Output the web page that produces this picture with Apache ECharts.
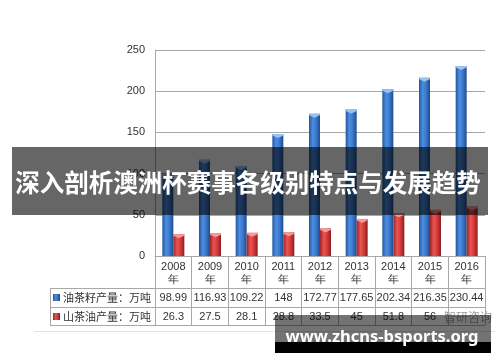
<!DOCTYPE html>
<html><head><meta charset="utf-8">
<script src="https://cdn.jsdelivr.net/npm/echarts@6/dist/echarts.min.js"></script>
<style>html,body{margin:0;padding:0;background:#fff}#c{width:500px;height:362px}</style>
</head><body><div id="c"></div>
<script>
const years = ['2008','2009','2010','2011','2012','2013','2014','2015','2016'];
const seedName = '油茶籽产量：万吨';
const oilName = '山茶油产量：万吨';
const seedValues = [98.99,116.93,109.22,148,172.77,177.65,202.34,216.35,230.44];
const oilValues = [26.3,27.5,28.1,28.8,33.5,45,51.8,56,60];
const seedLabels = ['98.99','116.93','109.22','148','172.77','177.65','202.34','216.35','230.44'];
const oilLabels = ['26.3','27.5','28.1','28.8','33.5','45','51.8','56',''];
const yTicks = [0,50,100,150,200,250];
const bannerText = '深入剖析澳洲杯赛事各级别特点与发展趋势';
const siteText = 'www.zhcns-bsports.org';
const logoText = '智研咨询';

const G = echarts.graphic;
const blueGrad = new G.LinearGradient(0,0,1,0,[{offset:0,color:'#23569c'},{offset:0.35,color:'#4d8ee2'},{offset:0.65,color:'#3a78cc'},{offset:1,color:'#1f4c8a'}]);
const redGrad = new G.LinearGradient(0,0,1,0,[{offset:0,color:'#9e2424'},{offset:0.35,color:'#ea5454'},{offset:0.65,color:'#d63a3a'},{offset:1,color:'#8a1e1e'}]);
const blueGrad2 = new G.LinearGradient(0,0,1,0,[{offset:0,color:'#23569c'},{offset:0.4,color:'#4d8ee2'},{offset:1,color:'#1f4c8a'}]);
const redGrad2 = new G.LinearGradient(0,0,1,0,[{offset:0,color:'#9e2424'},{offset:0.4,color:'#ea5454'},{offset:1,color:'#8a1e1e'}]);

const L = 155, R = 485, T = 50, B = 256;
const lineC = '#a8a8a8';
const capPath = 'path://M0,0 L10,0 L10,1.2 L5,3.5 L0,1.2 Z';

const chart = echarts.init(document.getElementById('c'), null, {renderer:'canvas'});
const numFont = 'Liberation Sans';
chart.setOption({
  animation:false,
  grid:{left:L, right:500-R, top:T, bottom:362-B},
  xAxis:[
    {type:'category', data:years, position:'bottom',
     axisLine:{show:true, lineStyle:{color:lineC}},
     axisTick:{show:true, length:69, interval:0, lineStyle:{color:lineC}},
     axisLabel:{interval:0, margin:4, fontSize:11, lineHeight:13, color:'#333', fontFamily:numFont,
       formatter:v=>v+'\n年'}},
    {type:'category', data:seedLabels, position:'bottom', offset:32,
     axisLine:{show:false}, axisTick:{show:false},
     axisLabel:{interval:0, margin:4, fontSize:11, color:'#333', fontFamily:numFont}},
    {type:'category', data:oilLabels, position:'bottom', offset:51,
     axisLine:{show:false}, axisTick:{show:false},
     axisLabel:{interval:0, margin:4, fontSize:11, color:'#333', fontFamily:numFont}}
  ],
  yAxis:{type:'value', min:yTicks[0], max:yTicks[yTicks.length-1], interval:50,
    axisLine:{show:true, lineStyle:{color:lineC}}, axisTick:{show:false},
    axisLabel:{margin:10, fontSize:11, color:'#333', fontFamily:numFont},
    splitLine:{lineStyle:{color:lineC}}},
  series:[
    {name:seedName, type:'bar', data:seedValues, barWidth:11, barGap:'0%', itemStyle:{color:blueGrad}, z:2},
    {name:oilName, type:'bar', data:oilValues, barWidth:11, barGap:'0%', itemStyle:{color:redGrad}, z:2},
    {type:'pictorialBar', data:seedValues, symbol:capPath, symbolSize:[11,4], symbolPosition:'end',
     symbolOffset:['-50%',0], itemStyle:{color:'#9cc3f0'}, z:3, silent:true},
    {type:'pictorialBar', data:oilValues, symbol:capPath, symbolSize:[11,4], symbolPosition:'end',
     symbolOffset:['50%',0], itemStyle:{color:'#f29a9a'}, z:3, silent:true}
  ],
  graphic:[
    {type:'line', shape:{x1:50,y1:288.5,x2:R,y2:288.5}, style:{stroke:lineC}},
    {type:'line', shape:{x1:50,y1:307.5,x2:R,y2:307.5}, style:{stroke:lineC}},
    {type:'line', shape:{x1:50,y1:325.5,x2:R,y2:325.5}, style:{stroke:lineC}},
    {type:'line', shape:{x1:50.5,y1:288,x2:50.5,y2:326}, style:{stroke:lineC}},
    {type:'line', shape:{x1:34,y1:331.5,x2:495,y2:331.5}, style:{stroke:'#e2e2e2'}},
    {type:'rect', shape:{x:53,y:294,width:7,height:7}, style:{fill:blueGrad2}},
    {type:'rect', shape:{x:53,y:313,width:7,height:7}, style:{fill:redGrad2}},
    {type:'text', x:63, y:298, style:{text:seedName, fontSize:11, fill:'#333', fontFamily:'Noto Sans CJK SC', verticalAlign:'middle'}},
    {type:'text', x:63, y:317, style:{text:oilName, fontSize:11, fill:'#333', fontFamily:'Noto Sans CJK SC', verticalAlign:'middle'}},
    {type:'text', x:468, y:317, style:{text:logoText, fontSize:12, fill:'#999', fontFamily:'Noto Sans CJK SC', align:'center', verticalAlign:'middle'}},
    {type:'rect', shape:{x:12,y:147,width:476,height:68}, style:{fill:'rgba(0,0,0,0.6)'}, z:100},
    {type:'text', x:248, y:183, style:{text:bannerText, fontSize:24.5, fontWeight:'bold', fill:'#fff', fontFamily:'Noto Sans CJK SC', align:'center', verticalAlign:'middle'}, z:101},
    {type:'rect', shape:{x:275,y:315,width:216,height:27}, style:{fill:'rgba(0,0,0,0.55)'}, z:100},
    {type:'rect', shape:{x:275,y:342,width:216,height:11}, style:{fill:'#000'}, z:100},
    {type:'text', x:382, y:337, style:{text:siteText, fontSize:16.5, fontWeight:'bold', fill:'#fff', fontFamily:'Noto Sans', align:'center', verticalAlign:'middle'}, z:101}
  ]
});
</script></body></html>
